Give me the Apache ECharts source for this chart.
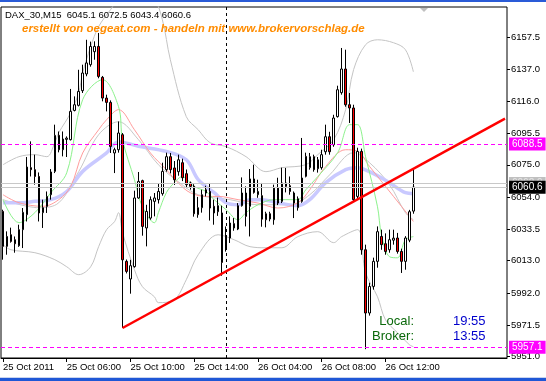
<!DOCTYPE html>
<html><head><meta charset="utf-8">
<script src="https://cdn.jsdelivr.net/npm/echarts@6/dist/echarts.min.js"></script>
<style>html,body{margin:0;padding:0;background:#fff;overflow:hidden}#c{width:546px;height:381px}</style>
</head><body><div id="c"></div>
<script>
// ---------- data ----------
const barCount = 127; // 104 bars + empty shift space on the right
const opens = [6044.9,6022.3,6029.8,6026.6,6022.7,6033.1,6042.8,6073.2,6071.9,6067.5,
6044.1,6048.1,6055.7,6070.8,6094.1,6084.8,6091.5,6091.3,6110.2,6113.5,
6123.0,6133.8,6139.8,6148.2,6151.6,6131.6,6118.2,6115.4,6082.7,6084.8,
6094.5,6012.6,6001.2,6009.2,6053.6,6064.8,6034.2,6040.6,6051.4,6052.5,
6056.4,6071.9,6080.3,6073.0,6070.6,6076.4,6069.3,6063.3,6061.2,6042.8,
6047.3,6058.9,6057.8,6048.2,6044.7,6043.9,6020.6,6027.7,6037.0,6033.5,
6048.6,6056.8,6048.2,6065.9,6055.7,6055.1,6039.5,6043.4,6039.5,6060.0,
6051.4,6063.3,6061.5,6056.8,6047.3,6051.4,6067.6,6073.2,6080.3,6072.5,
6073.2,6083.5,6093.2,6088.0,6106.2,6121.7,6137.0,6113.9,6111.8,6054.6,
6083.7,6020.1,5979.2,5996.4,6012.6,6028.7,6024.0,6020.1,6026.3,6027.7,
6019.0,6012.6,6026.3,6045.1];
const closes = [6022.3,6028.7,6025.5,6024.0,6033.1,6044.3,6073.6,6071.9,6067.5,6043.9,
6047.3,6054.6,6070.4,6094.1,6084.8,6091.7,6092.3,6109.6,6113.9,6122.5,
6134.4,6140.9,6151.6,6151.6,6132.2,6118.2,6115.4,6086.9,6084.8,6095.6,
6013.6,6006.1,6009.8,6053.6,6064.3,6035.2,6044.9,6052.5,6053.6,6057.8,
6070.8,6080.3,6071.9,6065.4,6078.3,6066.7,6062.2,6061.1,6043.4,6047.3,
6055.7,6056.8,6047.1,6043.9,6048.6,6011.9,6027.7,6037.4,6034.2,6048.6,
6056.8,6041.7,6065.9,6057.2,6057.8,6039.9,6043.4,6040.0,6060.0,6050.3,
6063.3,6061.1,6057.8,6050.3,6053.1,6066.5,6080.5,6080.3,6071.9,6078.3,
6081.6,6093.2,6083.5,6105.3,6123.6,6137.0,6113.9,6111.8,6052.5,6083.7,
6020.1,5979.2,5996.4,6012.6,6031.8,6023.4,6019.0,6026.6,6027.6,6019.0,
6012.6,6027.7,6044.7,6060.6];
const lows = [6013.7,6016.9,6024.7,6018.2,6022.0,6021.2,6038.4,6067.5,6062.2,6038.4,
6034.2,6043.9,6052.5,6069.7,6083.1,6080.5,6080.1,6090.8,6109.6,6112.8,
6121.5,6132.3,6138.5,6143.0,6131.0,6116.1,6109.6,6082.7,6069.7,6082.9,
5969.5,6004.8,5991.7,6008.5,6053.1,6029.2,6022.3,6039.5,6041.7,6050.0,
6055.1,6070.6,6069.5,6062.0,6068.0,6064.5,6060.0,6059.0,6041.5,6040.8,
6044.1,6054.6,6039.0,6036.3,6042.0,6003.3,6018.9,6024.5,6032.4,6032.8,
6048.0,6035.2,6028.7,6056.4,6053.7,6035.0,6034.6,6038.5,6036.3,6049.0,
6050.3,6057.2,6055.7,6040.6,6045.4,6050.5,6066.9,6071.9,6070.6,6070.0,
6071.9,6081.6,6081.6,6086.7,6105.6,6120.4,6112.6,6102.1,6051.2,6052.5,
6016.9,5955.8,5977.5,5994.3,6008.5,6020.1,6016.9,6018.2,6023.4,6017.6,
6005.1,6007.2,6025.0,6043.4];
const highs = [6046.0,6032.0,6034.4,6028.7,6036.3,6047.1,6080.1,6090.2,6081.6,6070.1,
6052.5,6057.8,6072.3,6101.0,6096.6,6096.6,6093.4,6124.1,6119.3,6136.5,
6139.8,6155.9,6154.7,6154.9,6160.3,6132.5,6120.4,6116.7,6086.1,6103.1,
6095.6,6013.8,6013.6,6058.3,6070.4,6065.4,6049.2,6054.6,6056.8,6063.2,
6076.4,6082.9,6082.7,6077.5,6081.6,6079.0,6072.0,6064.2,6062.5,6054.3,
6058.9,6061.5,6063.3,6052.5,6053.8,6048.6,6035.2,6041.7,6040.6,6050.3,
6066.9,6061.1,6072.3,6075.1,6065.4,6063.3,6044.7,6044.7,6062.2,6066.7,
6073.2,6073.0,6067.5,6057.8,6054.6,6092.4,6082.9,6082.7,6081.6,6080.1,
6084.8,6101.0,6096.4,6107.4,6126.2,6150.6,6149.5,6121.5,6113.9,6086.1,
6085.5,6023.4,5998.8,6015.0,6035.2,6033.1,6030.7,6033.1,6033.1,6031.0,
6020.8,6028.9,6045.9,6072.5];

const xTickBars = [0, 16, 32, 48, 64, 80, 96];
const xTickLabels = ['25 Oct 2011','25 Oct 06:00','25 Oct 10:00','25 Oct 14:00','26 Oct 04:00','26 Oct 08:00','26 Oct 12:00'];
const yTickValues = [5951.0,5971.5,5992.0,6013.0,6033.5,6054.0,6075.0,6095.5,6116.0,6137.0,6157.5];
const levelPrices = [6088.5, 5957.1];
const bidPrice = 6060.6;
const askPrice = 6062.9;
const daySeparatorBar = 56;
const trendLine = [[30, 5969.5], [126, 6104.9]];

// indicator lines at sample bars: [bar, price]
const bbUpper = [[0,6075.1],[4,6080.3],[8,6081.6],[11,6080.3],[13,6089.3],[14,6095.8],[17,6108.7],[19,6121.7],[20,6134.5],[22,6151.4],[24,6164.4],[27,6175.4],[29,6181.8],[34,6188.0],[38,6181.8],[40,6168.9],[42,6143.0],[46,6106.2],[49,6097.7],[52,6089.3],[56,6086.8],[61,6080.3],[66,6070.6],[70,6073.2],[76,6075.1],[79,6081.6],[83,6091.3],[86,6110.7],[88,6136.6],[91,6152.7],[94,6155.9],[98,6154.0],[101,6149.5],[103,6135.2]];
const bbLower = [[0,6023.4],[2,6020.1],[8,6018.2],[13,6013.7],[16,6009.1],[19,6004.0],[22,6009.1],[24,6022.1],[26,6033.1],[28,6038.3],[29,6044.1],[30,6031.2],[33,6007.2],[35,5996.2],[38,5989.7],[39,5985.9],[43,5987.8],[46,6000.7],[49,6016.9],[54,6029.8],[58,6026.6],[62,6022.1],[66,6021.4],[70,6021.4],[74,6028.6],[79,6031.8],[83,6024.7],[85,6028.6],[89,6033.1],[91,6005.3],[94,5989.7],[96,5974.8],[99,5966.5],[102,5958.7],[103,5957.4]];
const greyMA = [[0,6052.5],[9,6047.3],[14,6050.5],[19,6070.6],[24,6094.5],[29,6102.9],[34,6091.3],[39,6075.1],[44,6064.1],[49,6055.7],[57,6052.5],[64,6049.2],[72,6049.2],[77,6055.7],[82,6068.6],[88,6082.9],[92,6076.4],[97,6062.2],[101,6044.1],[103,6039.5]];
const slowMA = [[0,6050.5],[4,6050.5],[8,6051.4],[12,6052.5],[16,6057.8],[20,6070.8],[26,6082.7],[29,6090.0],[34,6087.0],[41,6083.7],[46,6078.3],[49,6065.4],[53,6057.0],[56,6050.5],[59,6049.2],[62,6052.5],[65,6052.5],[69,6050.5],[74,6048.6],[77,6052.5],[81,6063.5],[86,6071.9],[89,6073.2],[92,6070.6],[97,6063.5],[101,6057.0],[103,6056.4]];
const midMA = [[0,6055.7],[4,6050.5],[10,6048.2],[14,6052.5],[17,6061.1],[20,6082.7],[24,6097.7],[26,6104.2],[29,6110.7],[33,6097.7],[37,6082.7],[41,6071.9],[44,6063.3],[47,6057.0],[51,6054.6],[54,6054.6],[59,6052.5],[64,6050.3],[69,6047.1],[74,6050.5],[77,6058.9],[81,6074.0],[86,6084.8],[89,6083.7],[92,6074.0],[96,6061.1],[100,6048.2],[103,6038.4]];
const fastMA = [[0,6052.5],[4,6037.6],[8,6044.1],[12,6057.0],[16,6069.9],[20,6117.2],[25,6130.1],[29,6112.6],[30,6091.3],[33,6065.4],[35,6047.9],[38,6037.6],[39,6044.1],[41,6057.0],[43,6063.5],[45,6067.4],[48,6061.0],[51,6057.7],[53,6052.5],[56,6046.0],[59,6039.5],[61,6044.1],[64,6049.2],[68,6052.5],[71,6052.5],[74,6052.5],[76,6058.9],[79,6067.4],[84,6082.9],[87,6101.0],[89,6101.0],[91,6080.3],[94,6047.9],[95,6029.8],[97,6015.6],[99,6014.9],[101,6026.6],[103,6028.6]];

// ---------- chart ----------
const AX_FONT = "'Liberation Sans', Arial, sans-serif";
const last = opens.length - 1;
const categories = Array.from({length: barCount}, (_, i) => String(i));
const candleData = opens.map((o, i) => [o, closes[i], lows[i], highs[i]]);
const isTick = (i) => xTickBars.indexOf(i) >= 0;

function ind(data, color, width, z) {
  return {type: 'line', data, symbol: 'none', showSymbol: false, smooth: 0.35, clip: true, silent: true,
    lineStyle: {color, width}, z};
}
function priceLabel(bg, fg) {
  return {show: true, position: 'end', distance: 2, formatter: (p) => Number(p.value).toFixed(1),
    backgroundColor: bg, color: fg, padding: [2, 3, 1, 3], fontSize: 10, fontFamily: AX_FONT};
}

const chart = echarts.init(document.getElementById('c'), null, {renderer: 'canvas'});
chart.setOption({
  animation: false,
  backgroundColor: '#ffffff',
  grid: {left: 1, top: 7, width: 506, height: 351, show: true, borderColor: '#000', borderWidth: 1, backgroundColor: '#fff'},
  xAxis: {
    type: 'category', data: categories, boundaryGap: true,
    axisLine: {show: true, lineStyle: {color: '#000'}},
    axisTick: {show: true, interval: (i) => isTick(i), alignWithLabel: true, length: 4, lineStyle: {color: '#000'}},
    axisLabel: {show: true, interval: (i) => isTick(i), formatter: (v, i) => xTickLabels[xTickBars.indexOf(i)] || '',
      align: 'left', margin: 4, color: '#000', fontSize: 9.5, fontFamily: AX_FONT},
    splitLine: {show: false}
  },
  yAxis: {
    type: 'value', position: 'right', min: 5950.1, max: 6177.1,
    axisLine: {show: false},
    axisTick: {show: true, customValues: yTickValues, length: 3, lineStyle: {color: '#000'}},
    axisLabel: {customValues: yTickValues, formatter: (v) => v.toFixed(1), margin: 4, color: '#000', fontSize: 9.5, fontFamily: AX_FONT},
    splitLine: {show: false}
  },
  series: [
    ind(bbUpper, '#c4c4c4', 1, 3),
    ind(bbLower, '#c4c4c4', 1, 3),
    ind(greyMA, '#c8c8c8', 1, 3),
    ind(slowMA, '#c9c9ff', 3.5, 3),
    ind(midMA, '#ff9c9c', 1, 3),
    ind(fastMA, '#8cf28c', 1, 3),
    {
      type: 'candlestick', data: candleData, barWidth: 2, z: 4,
      itemStyle: {color: '#ffffff', color0: '#ff0000', borderColor: '#000000', borderColor0: '#000000', borderWidth: 1},
      markLine: {
        silent: true, symbol: ['none', 'none'], animation: false,
        data: [
          {yAxis: askPrice, lineStyle: {color: '#c8c8c8', type: 'solid', width: 1}, label: priceLabel('#c0c0c0', '#e6e6e6')},
          {yAxis: bidPrice, lineStyle: {color: '#c8c8c8', type: 'solid', width: 1}, label: priceLabel('#000000', '#ffffff')},
          {yAxis: levelPrices[0], lineStyle: {color: '#ff00ff', type: [4, 3], width: 1}, label: priceLabel('#ff00ff', '#ffffff')},
          {yAxis: levelPrices[1], lineStyle: {color: '#ff00ff', type: [4, 3], width: 1}, label: priceLabel('#ff00ff', '#ffffff')},
          {xAxis: daySeparatorBar, lineStyle: {color: '#000', type: [3, 3], width: 1}, label: {show: false}}
        ]
      }
    },
    {type: 'line', data: trendLine, symbol: 'none', showSymbol: false, clip: true, silent: true,
      lineStyle: {color: '#ff0000', width: 2.5}, z: 6}
  ],
  graphic: [
    {type: 'rect', shape: {x: 0, y: 0, width: 546, height: 2}, style: {fill: '#2a5bd7'}, silent: true},
    {type: 'rect', shape: {x: 0, y: 377, width: 546, height: 1}, style: {fill: '#c9d4ee'}, silent: true},
    {type: 'rect', shape: {x: 0, y: 378, width: 546, height: 3}, style: {fill: '#1f57d6'}, silent: true},
    {type: 'polygon', shape: {points: [[420, 8], [428, 8], [424, 12]]}, style: {fill: '#c0c0c0'}, silent: true},
    {type: 'text', x: 5, y: 15, style: {text: 'DAX_30,M15  ' + opens[last].toFixed(1) + ' ' + highs[last].toFixed(1) + ' ' + lows[last].toFixed(1) + ' ' + closes[last].toFixed(1),
      fill: '#000', font: '9.5px ' + AX_FONT, verticalAlign: 'middle'}, z: 10},
    {type: 'text', x: 22, y: 29, style: {text: 'erstellt von oegeat.com - handeln mit www.brokervorschlag.de',
      fill: '#ff8c00', font: 'italic bold 11.5px "Liberation Sans", Arial, sans-serif', verticalAlign: 'middle'}, z: 10},
    {type: 'text', x: 414, y: 321, style: {text: 'Local:', fill: '#0b690b', font: '13px "Liberation Sans", Arial, sans-serif', align: 'right', verticalAlign: 'middle'}, z: 10},
    {type: 'text', x: 414, y: 336, style: {text: 'Broker:', fill: '#0b690b', font: '13px "Liberation Sans", Arial, sans-serif', align: 'right', verticalAlign: 'middle'}, z: 10},
    {type: 'text', x: 453, y: 321, style: {text: '19:55', fill: '#0000cc', font: '13px "Liberation Sans", Arial, sans-serif', verticalAlign: 'middle'}, z: 10},
    {type: 'text', x: 453, y: 336, style: {text: '13:55', fill: '#0000cc', font: '13px "Liberation Sans", Arial, sans-serif', verticalAlign: 'middle'}, z: 10}
  ]
});
</script>
</body></html>
